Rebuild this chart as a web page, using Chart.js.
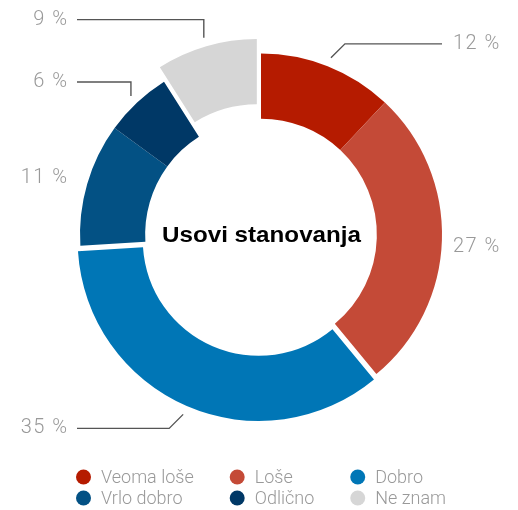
<!DOCTYPE html>
<html><head><meta charset="utf-8">
<script src="https://cdn.jsdelivr.net/npm/chart.js@4/dist/chart.umd.min.js"></script>
<style>html,body{margin:0;padding:0;background:#fff}canvas{display:block}</style>
</head><body>
<canvas id="c" width="518" height="510"></canvas>
<script>
// ---- data ----
const categories = ['Veoma loše', 'Loše', 'Dobro', 'Vrlo dobro', 'Odlično', 'Ne znam'];
const values = [12, 27, 35, 11, 6, 9];
const colors = ['#B51B00', '#C44A37', '#0076B6', '#035184', '#003866', '#D6D6D6'];
const centerTitle = 'Usovi stanovanja';

// ---- style ----
const explode = [0, 0, 6, 0, 0, 15];
const labelStyle = [
  {side: 'right', leader: 'diag'},
  {side: 'right', leader: 'none', dy: 6},
  {side: 'left', leader: 'diag'},
  {side: 'left', leader: 'none'},
  {side: 'left', leader: 'vert', rise: 14},
  {side: 'left', leader: 'vert', rise: 18}
];
const LIGHT_FAMILY = 'Roboto, "Open Sans", Lato, sans-serif';
const labelFont = '300 20px ' + LIGHT_FAMILY;
const legendFont = '300 18px ' + LIGHT_FAMILY;
const titleFont = 'bold 22px "Liberation Sans", Arial, sans-serif';
const textGray = '#999999';
const lineGray = '#555555';

const explodePlugin = {
  id: 'explode',
  afterDatasetUpdate(chart, args) {
    const meta = chart.getDatasetMeta(args.index);
    meta.data.forEach((arc, i) => {
      const d = explode[i] || 0;
      if (!d) return;
      const mid = (arc.startAngle + arc.endAngle) / 2;
      arc.x += Math.cos(mid) * d;
      arc.y += Math.sin(mid) * d;
    });
  }
};

const labelPlugin = {
  id: 'outLabels',
  afterDraw(chart) {
    const ctx = chart.ctx;
    const meta = chart.getDatasetMeta(0);
    const ca = chart.chartArea;
    const rightLineEnd = ca.right - 8, rightTextX = ca.right + 3;
    const leftLineStart = ca.left + 5, leftTextX = ca.left - 5;
    ctx.save();
    ctx.font = labelFont;
    ctx.letterSpacing = '1.5px';
    ctx.textBaseline = 'middle';
    meta.data.forEach((arc, i) => {
      const st = labelStyle[i];
      const mid = (arc.startAngle + arc.endAngle) / 2;
      const dx = Math.cos(mid), dy = Math.sin(mid);
      const r = arc.outerRadius + 9;
      const px = arc.x + dx * r, py = arc.y + dy * r;
      const txt = values[i] + ' %';
      let ty;
      ctx.strokeStyle = lineGray;
      ctx.lineWidth = 1.4;
      if (st.leader === 'none') {
        ty = arc.y + dy * (arc.outerRadius + 20) + (st.dy || 0);
      } else {
        let ex, ey;
        if (st.leader === 'diag') {
          ex = px + Math.sign(dx) * 14;
          ey = py + Math.sign(dy) * 14;
        } else {
          ex = px;
          ey = py - st.rise;
        }
        ty = ey;
        ctx.beginPath();
        ctx.moveTo(px, py);
        ctx.lineTo(ex, ey);
        ctx.lineTo(st.side === 'right' ? rightLineEnd : leftLineStart, ey);
        ctx.stroke();
      }
      ctx.fillStyle = textGray;
      if (st.side === 'right') {
        ctx.textAlign = 'left';
        ctx.fillText(txt, rightTextX, ty);
      } else {
        ctx.textAlign = 'right';
        ctx.fillText(txt, leftTextX + 1.5, ty);
      }
    });
    // center title (slightly widened to mimic the original bold face)
    const cx = (ca.left + ca.right) / 2 + 0.5, cy = (ca.top + ca.bottom) / 2 + 1;
    ctx.letterSpacing = '0px';
    ctx.font = titleFont;
    ctx.fillStyle = '#000';
    ctx.textAlign = 'center';
    ctx.textBaseline = 'middle';
    ctx.translate(cx, cy);
    ctx.scale(1.1, 1);
    ctx.fillText(centerTitle, 0, 0);
    ctx.restore();
  }
};

const legendPlugin = {
  id: 'gridLegend',
  afterDraw(chart) {
    const ctx = chart.ctx;
    const ca = chart.chartArea;
    const cols = 3, markR = 7.5, markGap = 10, colGap = 36;
    const rowY = [477, 498];
    ctx.save();
    ctx.font = legendFont;
    const colW = [];
    for (let c = 0; c < cols; c++) {
      let w = 0;
      for (let k = c; k < categories.length; k += cols) w = Math.max(w, ctx.measureText(categories[k]).width);
      colW.push(markR * 2 + markGap + w);
    }
    const total = colW.reduce((a, b) => a + b, 0) + colGap * (cols - 1);
    let x0 = (ca.left + ca.right) / 2 - total / 2;
    const colX = [];
    for (let c = 0; c < cols; c++) { colX.push(x0); x0 += colW[c] + colGap; }
    ctx.textBaseline = 'middle';
    ctx.textAlign = 'left';
    categories.forEach((name, k) => {
      const c = k % cols, row = Math.floor(k / cols);
      const x = colX[c], y = rowY[row];
      ctx.fillStyle = colors[k];
      ctx.beginPath();
      ctx.arc(x + markR, y, markR, 0, Math.PI * 2);
      ctx.fill();
      ctx.fillStyle = textGray;
      ctx.fillText(name, x + markR * 2 + markGap, y + 1);
    });
    ctx.restore();
  }
};

new Chart(document.getElementById('c'), {
  type: 'doughnut',
  data: {
    labels: categories,
    datasets: [{
      data: values,
      backgroundColor: colors,
      borderWidth: 0
    }]
  },
  options: {
    responsive: false,
    animation: false,
    events: [],
    radius: 181,
    cutout: '64%',
    layout: {padding: {left: 72, right: 68, top: 46, bottom: 87}},
    plugins: {legend: {display: false}, tooltip: {enabled: false}}
  },
  plugins: [explodePlugin, labelPlugin, legendPlugin]
});
</script>
</body></html>
